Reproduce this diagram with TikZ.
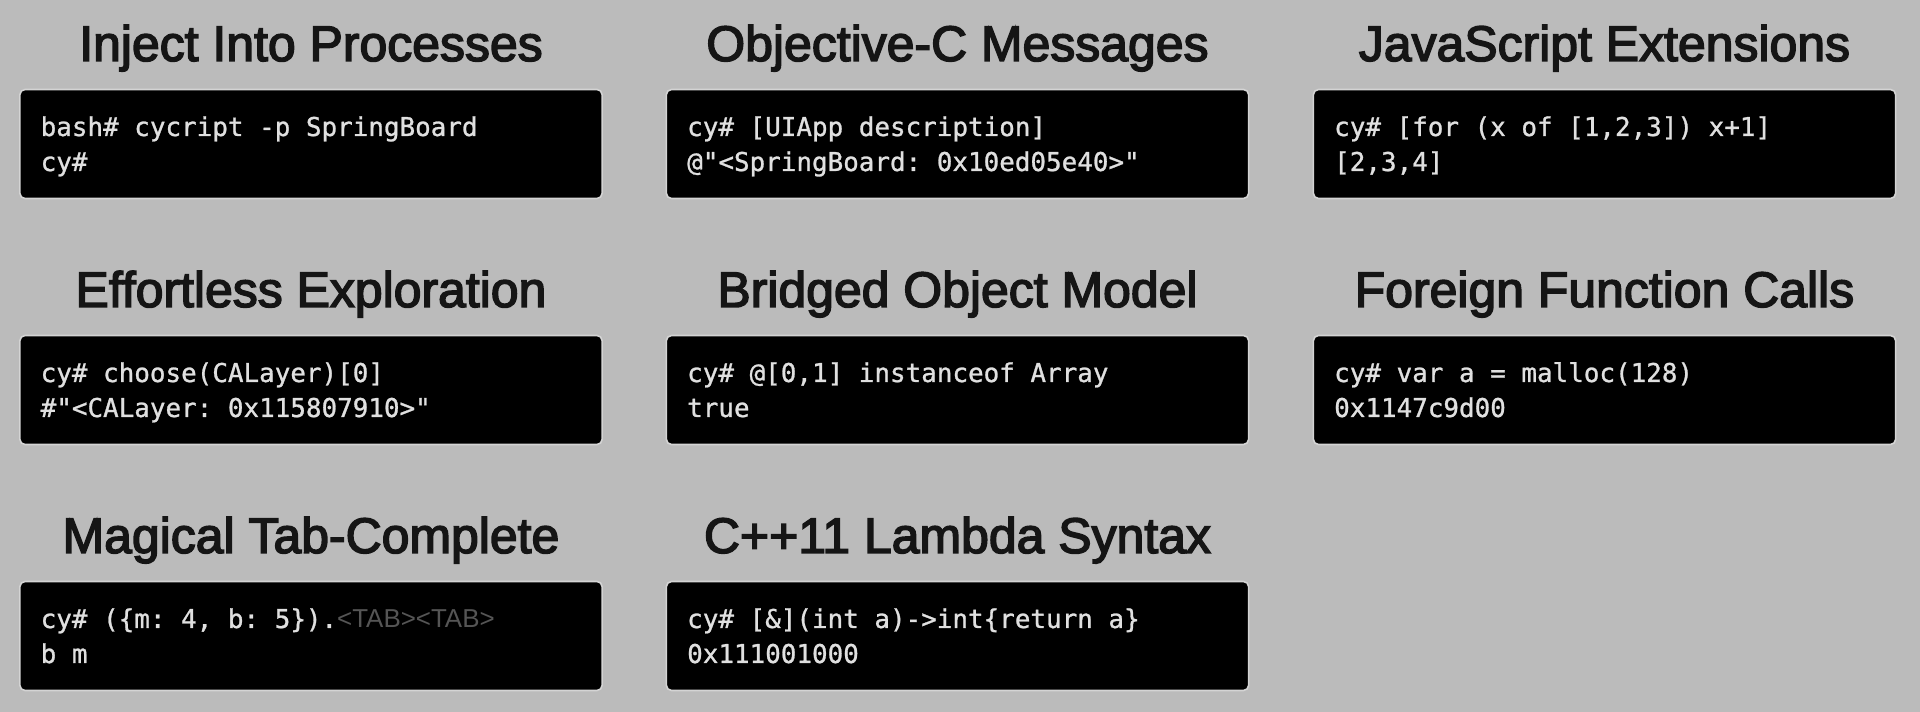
\documentclass[tikz,border=0pt]{standalone}
\usepackage{fontspec}
\setmainfont{Liberation Sans}
\setmonofont{DejaVu Sans Mono}[FakeBold=1]
\newfontfamily\headfont{Liberation Sans}[FakeBold=3]
\usepackage{tikz}

\definecolor{page}{HTML}{BBBBBB}
\definecolor{headtext}{HTML}{151515}
\definecolor{termedge}{HTML}{D4D4D4}
\definecolor{codetext}{HTML}{E0E0E0}
\definecolor{tabgray}{HTML}{555555}

\tikzset{
  heading/.style={anchor=base, inner sep=0pt, text=headtext,
    font=\headfont\fontsize{14.2pt}{17pt}\selectfont},
  term/.style={draw=termedge, fill=black, line width=0.45pt,
    rounded corners=1.5pt, minimum width=5.82cm, minimum height=1.09cm,
    inner sep=0pt},
  code/.style={anchor=base west, inner sep=0pt, text=codetext,
    font=\ttfamily\fontsize{7.37pt}{10pt}\selectfont},
}

\begin{document}
\begin{tikzpicture}[x=0.01cm,y=0.01cm]
\fill[page] (0,0) rectangle (1920,712);
\useasboundingbox (0,0) rectangle (1920,712);
\begin{scope}[shift={(311,568)}]
\node[heading] (t1) at (0,83) {Inject Into Processes};
\node[term] (b1) at (0,0) {};
\node[code] (c1) at (-271,8) {bash\# cycript -p SpringBoard};
\node[code] (d1) at (-271,-27) {cy\#};
\end{scope}
\begin{scope}[shift={(957.5,568)}]
\node[heading] (t2) at (0,83) {Objective-C Messages};
\node[term] (b2) at (0,0) {};
\node[code] (c2) at (-271,8) {cy\# [UIApp description]};
\node[code] (d2) at (-271,-27) {@"<SpringBoard: 0x10ed05e40>"};
\end{scope}
\begin{scope}[shift={(1604.5,568)}]
\node[heading] (t3) at (0,83) {JavaScript Extensions};
\node[term] (b3) at (0,0) {};
\node[code] (c3) at (-271,8) {cy\# [for (x of [1,2,3]) x+1]};
\node[code] (d3) at (-271,-27) {[2,3,4]};
\end{scope}
\begin{scope}[shift={(311,322)}]
\node[heading] (t4) at (0,83) {Effortless Exploration};
\node[term] (b4) at (0,0) {};
\node[code] (c4) at (-271,8) {cy\# choose(CALayer)[0]};
\node[code] (d4) at (-271,-27) {\#"<CALayer: 0x115807910>"};
\end{scope}
\begin{scope}[shift={(957.5,322)}]
\node[heading] (t5) at (0,83) {Bridged Object Model};
\node[term] (b5) at (0,0) {};
\node[code] (c5) at (-271,8) {cy\# @[0,1] instanceof Array};
\node[code] (d5) at (-271,-27) {true};
\end{scope}
\begin{scope}[shift={(1604.5,322)}]
\node[heading] (t6) at (0,83) {Foreign Function Calls};
\node[term] (b6) at (0,0) {};
\node[code] (c6) at (-271,8) {cy\# var a = malloc(128)};
\node[code] (d6) at (-271,-27) {0x1147c9d00};
\end{scope}
\begin{scope}[shift={(311,76)}]
\node[heading] (t7) at (0,83) {Magical Tab-Complete};
\node[term] (b7) at (0,0) {};
\node[code] (c7) at (-271,8) {cy\# (\{m: 4, b: 5\}).\textcolor{tabgray}{\rmfamily <TAB><TAB>}};
\node[code] (d7) at (-271,-27) {b m};
\end{scope}
\begin{scope}[shift={(957.5,76)}]
\node[heading] (t8) at (0,83) {C++11 Lambda Syntax};
\node[term] (b8) at (0,0) {};
\node[code] (c8) at (-271,8) {cy\# [\&](int a)->int\{return a\}};
\node[code] (d8) at (-271,-27) {0x111001000};
\end{scope}
\end{tikzpicture}
\end{document}
